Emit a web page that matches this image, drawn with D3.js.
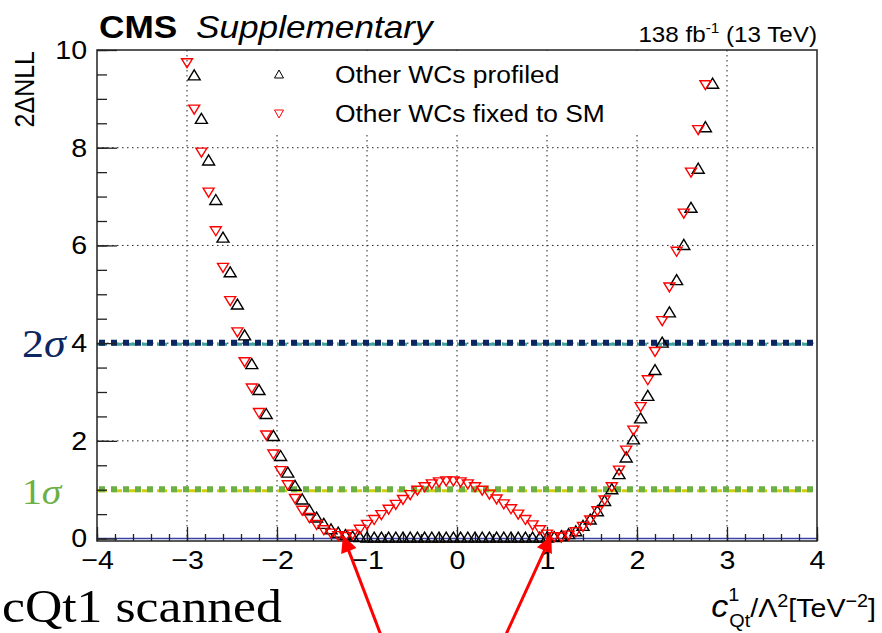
<!DOCTYPE html>
<html>
<head>
<meta charset="utf-8">
<script src="https://cdn.jsdelivr.net/npm/d3@7"></script>
<style>
  body { margin: 0; background: #fff; }
  svg { display: block; }
  text { font-family: "Liberation Sans", Arial, Helvetica, sans-serif; }
  .serif { font-family: "Liberation Serif", "DejaVu Serif", serif; }
</style>
</head>
<body>
<svg id="chart" width="882" height="633"></svg>
<script>
// scan points, other WCs profiled (black up-triangles)
const profiledX = [-2.92,-2.84,-2.76,-2.68,-2.60,-2.52,-2.44,-2.36,-2.28,-2.20,-2.12,-2.04,-1.96,-1.88,-1.80,-1.72,-1.64,-1.56,-1.48,-1.40,-1.32,-1.24,-1.16,-1.08,-1.00,-0.92,-0.84,-0.76,-0.68,-0.60,-0.52,-0.44,-0.36,-0.28,-0.20,-0.12,-0.04,0.04,0.12,0.20,0.28,0.36,0.44,0.52,0.60,0.68,0.76,0.84,0.92,1.00,1.08,1.16,1.24,1.32,1.40,1.48,1.56,1.64,1.72,1.80,1.88,1.96,2.04,2.12,2.20,2.28,2.36,2.44,2.52,2.60,2.68,2.76,2.84];
const profiledY = [9.49,8.60,7.75,6.94,6.17,5.46,4.80,4.17,3.58,3.05,2.56,2.11,1.70,1.36,1.09,0.81,0.59,0.44,0.31,0.20,0.13,0.08,0.05,0.04,0.03,0.03,0.03,0.03,0.03,0.03,0.03,0.03,0.03,0.03,0.03,0.03,0.03,0.03,0.03,0.03,0.03,0.03,0.03,0.03,0.03,0.03,0.03,0.03,0.03,0.03,0.04,0.06,0.10,0.16,0.27,0.40,0.57,0.78,1.02,1.33,1.67,2.04,2.47,2.93,3.46,4.02,4.64,5.30,6.02,6.78,7.58,8.43,9.32];

// scan points, other WCs fixed to SM (red down-triangles)
const fixedX = [-3.00,-2.92,-2.84,-2.76,-2.68,-2.60,-2.52,-2.44,-2.36,-2.28,-2.20,-2.12,-2.04,-1.96,-1.88,-1.80,-1.72,-1.64,-1.56,-1.48,-1.40,-1.32,-1.24,-1.16,-1.08,-1.00,-0.92,-0.84,-0.76,-0.68,-0.60,-0.52,-0.44,-0.36,-0.28,-0.20,-0.12,-0.04,0.04,0.12,0.20,0.28,0.36,0.44,0.52,0.60,0.68,0.76,0.84,0.92,1.00,1.08,1.16,1.24,1.32,1.40,1.48,1.56,1.64,1.72,1.80,1.88,1.96,2.04,2.12,2.20,2.28,2.36,2.44,2.52,2.60,2.68,2.76];
const fixedY = [9.73,8.78,7.90,7.08,6.29,5.54,4.86,4.22,3.61,3.07,2.57,2.11,1.72,1.38,1.09,0.81,0.57,0.42,0.28,0.17,0.10,0.05,0.03,0.08,0.18,0.28,0.38,0.48,0.59,0.69,0.79,0.89,0.98,1.05,1.11,1.15,1.17,1.17,1.15,1.11,1.05,0.98,0.90,0.80,0.70,0.60,0.49,0.38,0.27,0.17,0.08,0.03,0.02,0.06,0.13,0.24,0.37,0.56,0.78,1.05,1.39,1.80,2.21,2.69,3.24,3.82,4.45,5.14,5.87,6.65,7.49,8.36,9.28];

const xTicks = [-4, -3, -2, -1, 0, 1, 2, 3, 4];
const yTicks = [0, 2, 4, 6, 8, 10];
const legendLabels = ["Other WCs profiled", "Other WCs fixed to SM"];
const sigmaLevels = [4, 1];
const sigmaLabels = ["2", "1"];
const arrowTips = [[-1.26, 0.03], [1.04, 0.03]];
const arrowTails = [[-0.82, -2.1], [0.51, -2.1]];

const svg = d3.select("#chart");
const margin = { top: 50, right: 65, bottom: 92, left: 97 };
const width = 882, height = 633;
const sx = 1.1; // text in the picture is a bit wide

const x = d3.scaleLinear().domain([-4, 4]).range([margin.left, width - margin.right]);
const y = d3.scaleLinear().domain([-0.05, 10]).range([height - margin.bottom, margin.top]);

function label(parent, px, py, str, size, anchor) {
    return parent.append("text")
        .attr("transform", `translate(${px},${py}) scale(${sx},1)`)
        .attr("text-anchor", anchor || "start")
        .attr("font-size", size)
        .text(str);
}

// grid
const grid = svg.append("g").attr("stroke", "#222").attr("stroke-width", 1).attr("stroke-dasharray", "1.5 3.5");
grid.selectAll(".gx").data(xTicks.slice(1, -1)).join("line")
    .attr("x1", d => x(d)).attr("x2", d => x(d))
    .attr("y1", y(10)).attr("y2", y(-0.05));
grid.selectAll(".gy").data(yTicks.slice(1, -1)).join("line")
    .attr("x1", x(-4)).attr("x2", x(4))
    .attr("y1", d => y(d)).attr("y2", d => y(d));

// legend box hides the grid behind it
svg.append("rect").attr("x", 228).attr("y", 51).attr("width", 476).attr("height", 84).attr("fill", "#fff");

// zero line
svg.append("line")
    .attr("x1", x(-4)).attr("x2", x(4)).attr("y1", y(0)).attr("y2", y(0))
    .attr("stroke", "#3b44a6").attr("stroke-width", 1.5);

// sigma lines
const sigmaStyle = [
    { under: "#3fa39f", over: "#0b2660" },
    { under: "#cfcf10", over: "#6caf45" }
];
sigmaLevels.forEach((lv, i) => {
    svg.append("line")
        .attr("x1", x(-4)).attr("x2", x(4)).attr("y1", y(lv) + 1).attr("y2", y(lv) + 1)
        .attr("stroke", sigmaStyle[i].under).attr("stroke-width", 3)
        .attr("stroke-dasharray", "10 5");
    svg.append("line")
        .attr("x1", x(-4)).attr("x2", x(4)).attr("y1", y(lv) - 0.5).attr("y2", y(lv) - 0.5)
        .attr("stroke", sigmaStyle[i].over).attr("stroke-width", 6)
        .attr("stroke-dasharray", "6 6").attr("stroke-dashoffset", -2);
});

// axes
const xAxis = svg.append("g")
    .attr("transform", `translate(0,${y(-0.05)})`)
    .call(d3.axisBottom(x).tickValues(xTicks).tickSize(-14).tickPadding(10)
        .tickFormat(d => d < 0 ? "\u2212" + Math.abs(d) : d));
xAxis.selectAll("text").attr("font-size", 26).attr("fill", "#000").attr("transform", `scale(${sx},1)`);
svg.append("g")
    .attr("transform", `translate(0,${y(-0.05)})`)
    .call(d3.axisBottom(x).tickValues(d3.range(-4, 4.001, 0.2)).tickSize(-7).tickFormat(""));

const yAxis = svg.append("g")
    .attr("transform", `translate(${x(-4)},0)`)
    .call(d3.axisLeft(y).tickValues(yTicks).tickSize(-20).tickPadding(9));
yAxis.selectAll("text").attr("font-size", 26).attr("fill", "#000").attr("transform", `scale(${sx},1)`);
svg.append("g")
    .attr("transform", `translate(${x(-4)},0)`)
    .call(d3.axisLeft(y).tickValues(d3.range(0, 10.001, 0.5)).tickSize(-10).tickFormat(""));

svg.selectAll(".domain").remove();
svg.selectAll(".tick line").attr("stroke", "#222").attr("stroke-width", 1.3);

// frame
svg.append("rect")
    .attr("x", x(-4)).attr("y", y(10))
    .attr("width", x(4) - x(-4)).attr("height", y(-0.05) - y(10))
    .attr("fill", "none").attr("stroke", "#222").attr("stroke-width", 1.5);

// markers
const upTri = (px, py, w, h) => `M${px - w / 2},${py + h / 2}L${px + w / 2},${py + h / 2}L${px},${py - h / 2}Z`;
const downTri = (px, py, w, h) => `M${px - w / 2},${py - h / 2}L${px + w / 2},${py - h / 2}L${px},${py + h / 2}Z`;

svg.append("g").selectAll("path")
    .data(profiledX.map((d, i) => [d, profiledY[i]]))
    .join("path")
    .attr("d", d => upTri(x(d[0]), y(d[1]), 12, 10))
    .attr("fill", "none").attr("stroke", "#000").attr("stroke-width", 1.4);

svg.append("g").selectAll("path")
    .data(fixedX.map((d, i) => [d, fixedY[i]]))
    .join("path")
    .attr("d", d => downTri(x(d[0]), y(d[1]), 11, 9))
    .attr("fill", "none").attr("stroke", "#ff0000").attr("stroke-width", 1.4);

// legend
const leg = svg.append("g");
leg.append("path").attr("d", upTri(279, 74, 9, 8)).attr("fill", "none").attr("stroke", "#000").attr("stroke-width", 1);
leg.append("path").attr("d", downTri(279, 114, 9, 8)).attr("fill", "none").attr("stroke", "#ff0000").attr("stroke-width", 1);
label(leg, 335, 83, legendLabels[0], 24);
label(leg, 335, 122, legendLabels[1], 24);

// titles
label(svg, 99, 38, "CMS", 32).attr("font-weight", "bold");
label(svg, 196, 38, "Supplementary", 32).attr("font-style", "italic");

const lumi = svg.append("text")
    .attr("transform", `translate(817,42) scale(${sx},1)`)
    .attr("text-anchor", "end").attr("font-size", 22);
lumi.append("tspan").text("138 fb");
lumi.append("tspan").attr("font-size", 14).attr("dy", -9).text("-1");
lumi.append("tspan").attr("dy", 9).text(" (13 TeV)");

svg.append("text")
    .attr("transform", "translate(34,51) rotate(-90) scale(1,1.1)")
    .attr("text-anchor", "end").attr("font-size", 25)
    .text("2\u0394NLL");

const xt = svg.append("text")
    .attr("transform", `translate(876,617) scale(${sx},1)`)
    .attr("text-anchor", "end").attr("font-size", 26);
xt.append("tspan").attr("font-style", "italic").attr("font-size", 31).text("c");
xt.append("tspan").attr("font-size", 18).attr("dy", -16).text("1");
xt.append("tspan").attr("font-size", 18).attr("dx", -9).attr("dy", 26).text("Qt");
xt.append("tspan").attr("dy", -10).text("/\u039B");
xt.append("tspan").attr("font-size", 18).attr("dy", -10).text("2");
xt.append("tspan").attr("dy", 10).text("[TeV");
xt.append("tspan").attr("font-size", 18).attr("dy", -10).text("\u22122");
xt.append("tspan").attr("dy", 10).text("]");

// sigma labels
sigmaLevels.forEach((lv, i) => {
    const t = svg.append("text").attr("class", "serif")
        .attr("transform", `translate(22,${y(lv) + 14}) scale(${sx},1)`)
        .attr("font-size", i === 0 ? 40 : 36)
        .attr("fill", sigmaStyle[i].over);
    t.append("tspan").text(sigmaLabels[i]);
    t.append("tspan").attr("font-style", "italic").text("\u03C3");
});

svg.append("text").attr("class", "serif")
    .attr("transform", `translate(2,622) scale(${sx},1)`)
    .attr("font-size", 47).text("cQt1 scanned");

// arrows
const defs = svg.append("defs");
defs.append("marker").attr("id", "head")
    .attr("viewBox", "0 0 10 10").attr("refX", 9).attr("refY", 5)
    .attr("markerWidth", 7).attr("markerHeight", 5.5).attr("orient", "auto")
    .attr("markerUnits", "strokeWidth")
    .append("path").attr("d", "M0,0L10,5L0,10Z").attr("fill", "#ff0000");

svg.append("g").selectAll("line")
    .data(arrowTips.map((t, i) => [arrowTails[i], t]))
    .join("line")
    .attr("x1", d => x(d[0][0])).attr("y1", d => y(d[0][1]))
    .attr("x2", d => x(d[1][0])).attr("y2", d => y(d[1][1]))
    .attr("stroke", "#ff0000").attr("stroke-width", 3)
    .attr("marker-end", "url(#head)");
</script>
</body>
</html>
